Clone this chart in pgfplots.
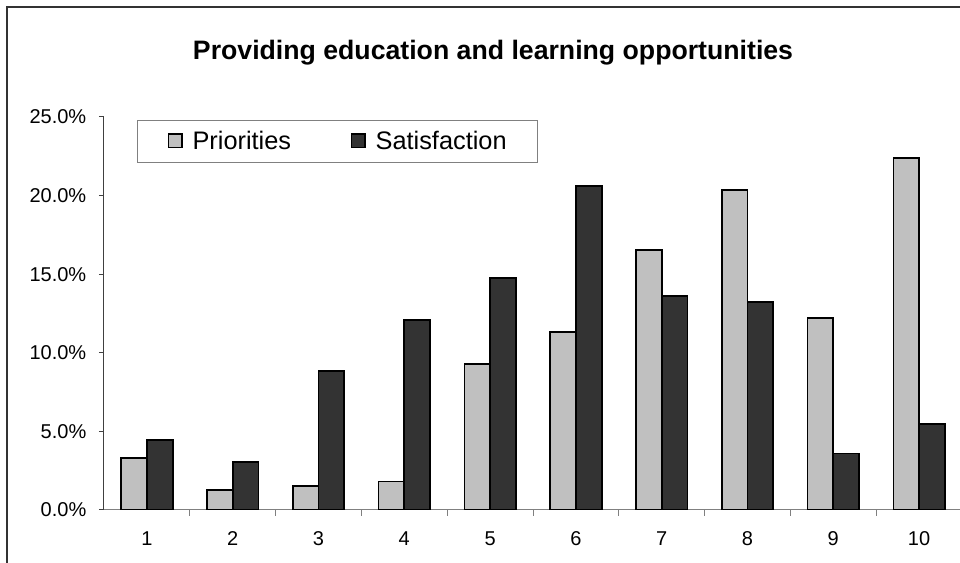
\documentclass[border=0pt]{standalone}
\usepackage{fontspec}
\setmainfont{Liberation Sans}
\usepackage{pgfplots}
\pgfplotsset{compat=1.18}
\definecolor{prio}{HTML}{C0C0C0}
\definecolor{satis}{HTML}{333333}

\begin{document}
\begin{tikzpicture}[font=\fontsize{15}{18}\selectfont]
% crop window: the reference is a cut-out of a larger chart
\useasboundingbox (-78pt,-39.75pt) rectangle (642pt,382.5pt);
\clip (-78pt,-39.75pt) rectangle (642pt,382.5pt);
\draw[line width=1.1pt, black!80] (-72.75pt,-120pt) rectangle (760pt,377.25pt);
\node[font=\fontsize{20}{24}\selectfont\bfseries] at (291.75pt,342.75pt)
  {Providing education and learning opportunities};
\begin{axis}[
  at={(0pt,0pt)}, anchor=south west,
  font=\fontsize{15}{18}\selectfont,
  scale only axis, width=643.5pt, height=294.75pt,
  xmin=0.5, xmax=10.5, ymin=0, ymax=25,
  axis x line*=bottom, axis y line*=left,
  x axis line style={gray, line width=0.75pt},
  y axis line style={black!75, line width=0.75pt},
  ybar=0pt, bar width=19.3pt,
  xtick={1,...,10}, minor x tick num=1,
  major x tick style={draw=none},
  minor x tick style={gray, line width=0.75pt},
  ytick={0,5,...,25},
  major y tick style={black!75, line width=0.75pt},
  tick align=outside, major tick length=3.75pt, minor tick length=4.5pt,
  /pgf/number format/assume math mode=true,
  yticklabel={\fontsize{15}{18}\selectfont\pgfmathprintnumber[fixed,fixed zerofill,precision=1]{\tick}\%},
  xticklabel={\fontsize{15}{18}\selectfont\pgfmathprintnumber{\tick}},
  tick label style={font=\fontsize{15}{18}\selectfont},
  xticklabel style={yshift=-9pt},
  yticklabel style={xshift=-6pt},
  legend style={at={(0.03846,0.99237)}, anchor=north west,
    draw=gray, line width=0.75pt, inner xsep=22.9pt, inner ysep=8pt,
    font=\fontsize{19}{23}\selectfont, nodes={inner sep=0pt},
    /tikz/every odd column/.append style={column sep=7.5pt},
    /tikz/every even column/.append style={column sep=45pt}},
  legend columns=2,
]
\addplot[fill=prio, draw=black, line width=1.3pt,
  legend image code/.code={\draw[fill=prio,draw=black,line width=0.9pt] (0pt,-4.5pt) rectangle (10pt,5.5pt);}]
  coordinates {(1,3.33) (2,1.29) (3,1.53) (4,1.82) (5,9.31) (6,11.32) (7,16.54) (8,20.36) (9,12.21) (10,22.41)};
\addlegendentry{Priorities}
\addplot[fill=satis, draw=black, line width=1.3pt,
  legend image code/.code={\draw[fill=satis,draw=black,line width=0.9pt] (0pt,-4.5pt) rectangle (10pt,5.5pt);}]
  coordinates {(1,4.47) (2,3.07) (3,8.82) (4,12.09) (5,14.78) (6,20.63) (7,13.61) (8,13.23) (9,3.60) (10,5.49)};
\addlegendentry{Satisfaction}
\end{axis}
\end{tikzpicture}
\end{document}
